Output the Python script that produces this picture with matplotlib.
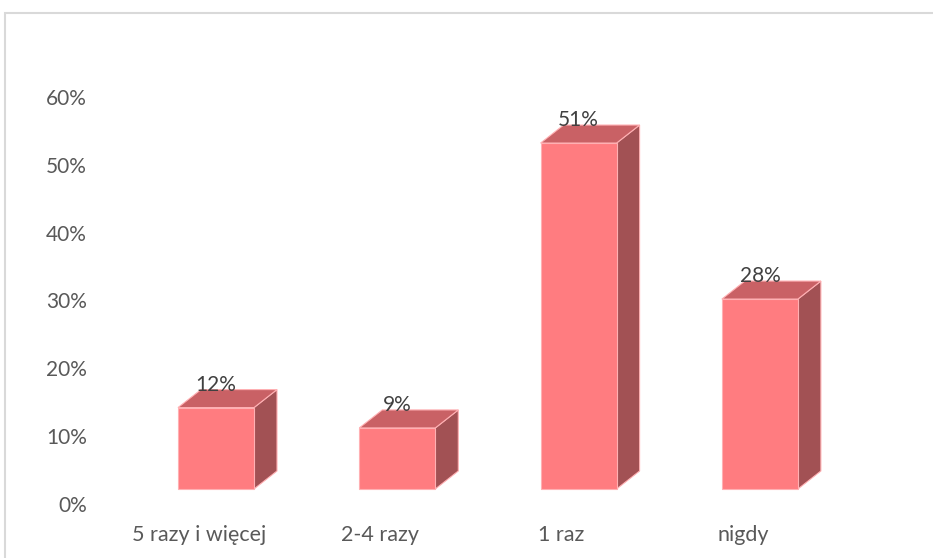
import matplotlib
matplotlib.use('Agg')
import matplotlib.pyplot as plt
from matplotlib.patches import Polygon, Rectangle
from matplotlib.ticker import PercentFormatter

# dane
kategorie = ['5 razy i więcej', '2-4 razy', '1 raz', 'nigdy']
wartosci = [0.12, 0.09, 0.51, 0.28]
etykiety = ['12%', '9%', '51%', '28%']

plt.rcParams['font.family'] = ['Lato', 'DejaVu Sans']

fig = plt.figure(figsize=(9.33, 5.58), dpi=100)
W, H = 933, 558
# obszar osi w pikselach: x 100..930, y 504 (0%) .. 97 (60%)
ax = fig.add_axes([100 / W, (H - 504) / H, 830 / W, 407 / H])
ax.set_xlim(-0.546, 4.032)
ax.set_ylim(0, 0.6)

# parametry "3D"
px_x = 181.3            # pikseli na kategorie
px_y = 678.0            # pikseli na 1.0
szer = 76 / px_x
przes = 17 / px_x       # przesuniecie slupka wzgledem etykiety
dx = 23 / px_x
dy = 18 / px_y
podloga = 15 / px_y

kol_przod = '#ff7c80'
kol_gora = '#c96165'
kol_bok = '#a25154'
kol_kraw = '#ffb0b3'

for i, v in enumerate(wartosci):
    x0 = i + przes - szer / 2
    x1 = x0 + szer
    y0 = podloga
    y1 = podloga + v
    bok = Polygon([(x1, y0), (x1 + dx, y0 + dy), (x1 + dx, y1 + dy), (x1, y1)],
                  closed=True, facecolor=kol_bok, edgecolor=kol_kraw, lw=0.8,
                  clip_on=False, zorder=2)
    gora = Polygon([(x0, y1), (x0 + dx, y1 + dy), (x1 + dx, y1 + dy), (x1, y1)],
                   closed=True, facecolor=kol_gora, edgecolor=kol_kraw, lw=0.8,
                   clip_on=False, zorder=2)
    przod = Rectangle((x0, y0), szer, v, facecolor=kol_przod,
                      edgecolor=kol_kraw, lw=0.8, clip_on=False, zorder=3)
    ax.add_patch(bok)
    ax.add_patch(gora)
    ax.add_patch(przod)
    ax.text(i + przes, y1 + 23 / px_y, etykiety[i], ha='center', va='center',
            fontsize=15, color='#404040', zorder=4)

ax.set_xticks(range(len(kategorie)))
ax.set_xticklabels(kategorie, fontsize=15.5)
ax.set_yticks([0, 0.1, 0.2, 0.3, 0.4, 0.5, 0.6])
ax.yaxis.set_major_formatter(PercentFormatter(1.0, decimals=0))
ax.tick_params(axis='both', length=0, colors='#595959')
ax.tick_params(axis='y', pad=9.5, labelsize=15)
ax.tick_params(axis='x', pad=15)
for s in ax.spines.values():
    s.set_visible(False)
ax.patch.set_alpha(0)

# ramka wykresu
fig.add_artist(Rectangle((5 / W, -0.1), 1.2, 1 - 13 / H + 0.1,
                         transform=fig.transFigure, fill=False,
                         edgecolor='#d9d9d9', lw=1.5))

fig.savefig('out.png', dpi=100)
